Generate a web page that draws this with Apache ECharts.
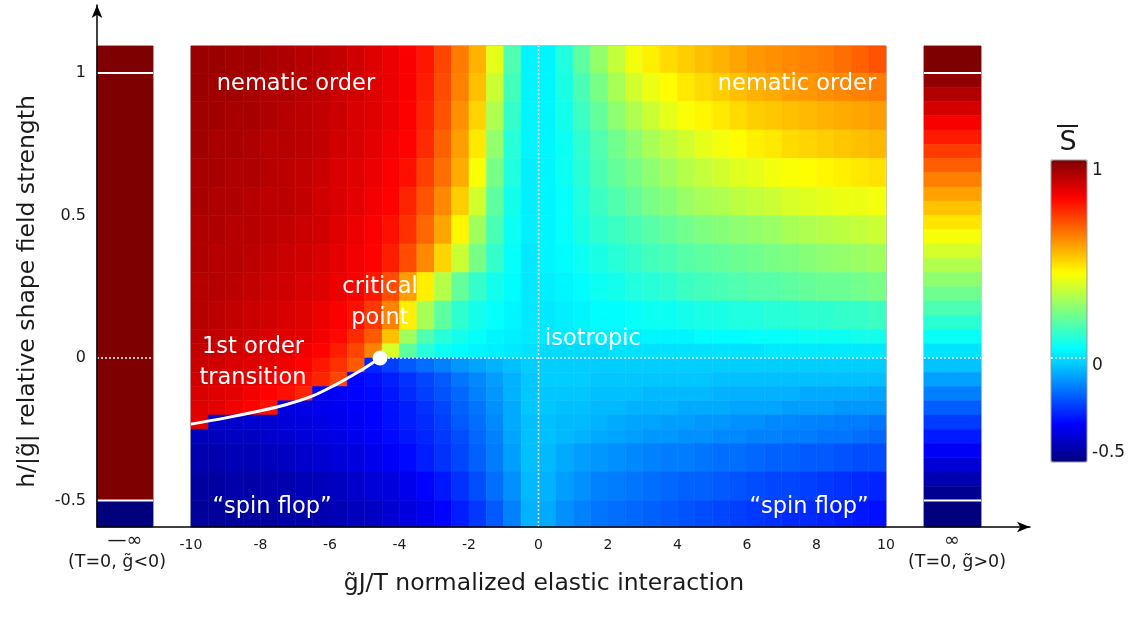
<!DOCTYPE html>
<html><head><meta charset="utf-8">
<script src="https://cdn.jsdelivr.net/npm/echarts@6/dist/echarts.min.js"></script>
<style>html,body{margin:0;padding:0;background:#fff}#c{width:1132px;height:617px}</style>
</head><body><div id="c"></div>
<script>
// ---- data ----
const xCenters = [-9.75,-9.25,-8.75,-8.25,-7.75,-7.25,-6.75,-6.25,-5.75,-5.25,-4.75,-4.25,-3.75,-3.25,-2.75,-2.25,-1.75,-1.25,-0.75,-0.25,
                  0.25,0.75,1.25,1.75,2.25,2.75,3.25,3.75,4.25,4.75,5.25,5.75,6.25,6.75,7.25,7.75,8.25,8.75,9.25,9.75];
// row edges in h (top to bottom); row i spans hEdges[i] .. hEdges[i+1]
const hEdges = [1.1,1.0,0.9,0.8,0.7,0.6,0.5,0.4,0.3,0.2,0.1,0.05,0,-0.05,-0.1,-0.15,-0.2,-0.25,-0.3,-0.4,-0.5,-0.6];

const sH105 = [0.96,0.96,0.95,0.95,0.94,0.93,0.92,0.91,0.90,0.88,0.86,0.84,0.82,0.78,0.71,0.63,0.55,0.40,0.18,0.05,
               0.05,0.11,0.20,0.28,0.35,0.42,0.46,0.49,0.51,0.53,0.55,0.57,0.59,0.60,0.61,0.62,0.63,0.65,0.67,0.69];
const sH095 = [0.96,0.95,0.95,0.94,0.93,0.93,0.92,0.91,0.89,0.88,0.86,0.84,0.82,0.77,0.70,0.62,0.53,0.36,0.16,0.05,
               0.05,0.10,0.17,0.24,0.31,0.37,0.41,0.44,0.47,0.49,0.51,0.53,0.55,0.56,0.58,0.59,0.60,0.61,0.62,0.63];
const sH085 = [0.95,0.95,0.94,0.94,0.93,0.92,0.91,0.90,0.89,0.87,0.86,0.84,0.815,0.76,0.69,0.60,0.50,0.32,0.14,0.05,
               0.05,0.09,0.15,0.21,0.27,0.32,0.36,0.40,0.43,0.45,0.47,0.49,0.51,0.52,0.53,0.54,0.55,0.56,0.57,0.58];
const sH075 = [0.95,0.94,0.94,0.93,0.92,0.92,0.91,0.90,0.88,0.87,0.85,0.83,0.81,0.75,0.67,0.58,0.47,0.28,0.12,0.05,
               0.05,0.08,0.13,0.18,0.23,0.27,0.31,0.34,0.37,0.40,0.42,0.44,0.46,0.47,0.49,0.50,0.51,0.52,0.53,0.54];
const sH065 = [0.94,0.94,0.93,0.93,0.92,0.91,0.90,0.89,0.87,0.86,0.84,0.82,0.79,0.72,0.65,0.56,0.43,0.24,0.11,0.04,
               0.05,0.08,0.12,0.17,0.21,0.24,0.27,0.30,0.33,0.35,0.37,0.39,0.40,0.42,0.43,0.44,0.45,0.46,0.47,0.48];
const sH055 = [0.94,0.93,0.93,0.92,0.91,0.91,0.90,0.88,0.87,0.85,0.83,0.81,0.76,0.69,0.61,0.51,0.37,0.20,0.09,0.04,
               0.05,0.07,0.11,0.15,0.18,0.21,0.24,0.26,0.29,0.31,0.32,0.34,0.35,0.36,0.38,0.39,0.40,0.41,0.41,0.42];
const sH045 = [0.93,0.93,0.92,0.92,0.91,0.90,0.89,0.88,0.86,0.84,0.82,0.79,0.74,0.66,0.57,0.45,0.30,0.17,0.08,0.04,
               0.05,0.07,0.10,0.13,0.15,0.17,0.19,0.21,0.23,0.25,0.26,0.27,0.28,0.29,0.31,0.32,0.33,0.34,0.35,0.36];
const sH035 = [0.93,0.92,0.92,0.91,0.90,0.89,0.88,0.87,0.85,0.83,0.81,0.77,0.70,0.61,0.50,0.36,0.24,0.14,0.07,0.03,
               0.05,0.06,0.08,0.10,0.12,0.14,0.16,0.17,0.19,0.20,0.21,0.22,0.23,0.24,0.25,0.26,0.27,0.28,0.29,0.30];
const sH025 = [0.92,0.92,0.91,0.90,0.89,0.88,0.87,0.86,0.84,0.82,0.78,0.70,0.58,0.46,0.33,0.21,0.14,0.09,0.06,0.03,
               0.04,0.05,0.06,0.08,0.09,0.11,0.12,0.13,0.15,0.16,0.17,0.18,0.19,0.19,0.20,0.21,0.22,0.22,0.23,0.24];
const sH015 = [0.92,0.91,0.90,0.89,0.88,0.87,0.86,0.84,0.82,0.79,0.73,0.62,0.46,0.31,0.20,0.13,0.09,0.07,0.05,0.03,
               0.03,0.04,0.05,0.06,0.06,0.07,0.08,0.08,0.09,0.10,0.10,0.11,0.11,0.12,0.12,0.13,0.13,0.14,0.14,0.15];
const sH0075 = [0.91,0.90,0.89,0.88,0.87,0.86,0.85,0.83,0.80,0.75,0.68,0.53,0.30,0.18,0.12,0.09,0.07,0.05,0.04,0.03,
                0.03,0.03,0.03,0.04,0.04,0.04,0.05,0.05,0.05,0.06,0.06,0.06,0.07,0.07,0.07,0.08,0.08,0.08,0.09,0.09];
const sH0025 = [0.90,0.89,0.88,0.87,0.86,0.85,0.83,0.81,0.77,0.71,0.62,0.38,0.20,0.12,0.08,0.06,0.05,0.04,0.03,0.02,
                0.01,0.01,0.01,0.01,0.02,0.02,0.02,0.02,0.02,0.02,0.02,0.02,0.02,0.03,0.03,0.03,0.03,0.03,0.03,0.03];
const sHm0025 = [0.89,0.88,0.87,0.86,0.85,0.83,0.81,0.78,0.74,0.68,-0.26,-0.22,-0.18,-0.15,-0.12,-0.09,-0.07,-0.05,-0.03,-0.01,
                 -0.01,-0.01,-0.01,-0.01,-0.01,-0.01,-0.01,-0.01,-0.01,-0.01,-0.01,-0.01,-0.01,-0.01,-0.01,-0.01,-0.01,-0.01,-0.01,-0.01];
const sHm0075 = [0.88,0.87,0.86,0.85,0.83,0.81,0.79,0.76,0.71,-0.31,-0.29,-0.27,-0.24,-0.21,-0.18,-0.14,-0.11,-0.08,-0.05,-0.02,
                 -0.01,-0.01,-0.01,-0.02,-0.02,-0.02,-0.02,-0.02,-0.02,-0.02,-0.03,-0.03,-0.03,-0.03,-0.03,-0.03,-0.03,-0.03,-0.03,-0.03];
const sHm0125 = [0.87,0.86,0.85,0.83,0.81,0.79,0.76,-0.33,-0.32,-0.31,-0.30,-0.28,-0.25,-0.22,-0.19,-0.16,-0.12,-0.09,-0.05,-0.02,
                 -0.02,-0.02,-0.02,-0.03,-0.03,-0.03,-0.04,-0.04,-0.04,-0.04,-0.05,-0.05,-0.05,-0.05,-0.05,-0.06,-0.06,-0.06,-0.06,-0.07];
const sHm0175 = [0.86,0.85,0.83,0.81,0.79,-0.36,-0.35,-0.34,-0.33,-0.32,-0.31,-0.29,-0.27,-0.24,-0.21,-0.17,-0.14,-0.10,-0.06,-0.02,
                 -0.02,-0.03,-0.03,-0.04,-0.04,-0.05,-0.05,-0.05,-0.06,-0.06,-0.06,-0.07,-0.07,-0.07,-0.08,-0.08,-0.08,-0.09,-0.09,-0.09];
const sHm0225 = [0.85,-0.39,-0.39,-0.38,-0.38,-0.37,-0.36,-0.35,-0.34,-0.33,-0.31,-0.29,-0.27,-0.25,-0.22,-0.18,-0.15,-0.11,-0.06,-0.03,
                 -0.03,-0.04,-0.04,-0.05,-0.06,-0.07,-0.07,-0.08,-0.08,-0.09,-0.09,-0.10,-0.10,-0.11,-0.11,-0.12,-0.12,-0.13,-0.13,-0.14];
const sHm0275 = [-0.41,-0.41,-0.40,-0.40,-0.39,-0.38,-0.37,-0.36,-0.35,-0.34,-0.32,-0.30,-0.28,-0.26,-0.23,-0.20,-0.16,-0.12,-0.07,-0.03,
                 -0.03,-0.04,-0.05,-0.06,-0.07,-0.08,-0.09,-0.09,-0.10,-0.10,-0.11,-0.11,-0.12,-0.12,-0.13,-0.13,-0.14,-0.14,-0.15,-0.16];
const sHm035 = [-0.43,-0.43,-0.42,-0.42,-0.41,-0.40,-0.39,-0.38,-0.37,-0.36,-0.34,-0.32,-0.30,-0.27,-0.24,-0.21,-0.17,-0.13,-0.08,-0.03,
                -0.04,-0.06,-0.08,-0.09,-0.10,-0.11,-0.12,-0.13,-0.13,-0.14,-0.15,-0.15,-0.16,-0.17,-0.17,-0.18,-0.18,-0.19,-0.20,-0.20];
const sHm045 = [-0.45,-0.45,-0.44,-0.44,-0.43,-0.43,-0.42,-0.41,-0.40,-0.39,-0.37,-0.36,-0.34,-0.31,-0.28,-0.24,-0.20,-0.15,-0.10,-0.04,
                -0.05,-0.08,-0.10,-0.12,-0.13,-0.14,-0.15,-0.16,-0.17,-0.17,-0.18,-0.19,-0.20,-0.21,-0.21,-0.22,-0.23,-0.24,-0.25,-0.26];
const sHm055 = [-0.46,-0.46,-0.46,-0.45,-0.45,-0.44,-0.44,-0.43,-0.42,-0.41,-0.40,-0.38,-0.36,-0.34,-0.31,-0.27,-0.23,-0.18,-0.12,-0.05,
                -0.06,-0.10,-0.12,-0.14,-0.15,-0.16,-0.17,-0.18,-0.19,-0.20,-0.21,-0.22,-0.23,-0.24,-0.25,-0.25,-0.26,-0.27,-0.28,-0.29];
const rowsS = [sH105,sH095,sH085,sH075,sH065,sH055,sH045,sH035,sH025,sH015,sH0075,sH0025,
               sHm0025,sHm0075,sHm0125,sHm0175,sHm0225,sHm0275,sHm035,sHm045,sHm055];

const yTickValues = [-0.5, 0, 0.5, 1];
const colorbarTicks = ['1', '0', '-0.5'];

// first-order transition line and critical point
const curveX = [-10, -9, -8, -7.3, -6.5, -5.86, -5.4, -5.0, -4.56];
const curveH = [-0.232, -0.210, -0.185, -0.165, -0.133, -0.095, -0.064, -0.035, 0];
const criticalPoint = [-4.56, 0];

// limit bars: edges in h and S value of each segment
const leftBarEdges = [1.095, -0.5, -0.593];
const leftBarS = [1, -0.5];
const rightBarEdges = [1.095,1.0,0.95,0.9,0.85,0.8,0.75,0.7,0.65,0.6,0.55,0.5,0.45,0.4,0.35,0.3,0.25,0.2,0.15,0.1,0.05,0,
                       -0.05,-0.1,-0.15,-0.2,-0.25,-0.3,-0.35,-0.4,-0.45,-0.5,-0.593];
const rightBarS = [1,0.975,0.925,0.875,0.825,0.775,0.725,0.675,0.625,0.575,0.525,0.475,0.425,0.375,0.325,0.275,0.225,0.175,0.125,0.075,0.025,
                   -0.025,-0.075,-0.125,-0.175,-0.225,-0.275,-0.325,-0.375,-0.425,-0.475,-0.5];

// ---- build series data ----
const dx = (xCenters[1] - xCenters[0]) / 2;
const cellData = [];
rowsS.forEach((row, r) => row.forEach((s, c) =>
  cellData.push([xCenters[c], hEdges[r + 1], hEdges[r], s])));
const curveData = curveX.map((x, i) => [x, curveH[i]]);
const barData = (edges, vals) => vals.map((s, i) => [edges[i + 1], edges[i], s]);

const H_MIN = -0.593, H_MAX = 1.095;
const FONT = 'DejaVu Sans';
const TXT = '#1a1a1a';

function clipTo(params, rect) {
  const cs = params.coordSys;
  return echarts.graphic.clipRectByRect(rect, {x: cs.x, y: cs.y, width: cs.width, height: cs.height});
}
function renderCell(params, api) {
  const x = api.value(0), lo = api.value(1), hi = api.value(2);
  const a = api.coord([x - dx, hi]);
  const b = api.coord([x + dx, lo]);
  const rect = clipTo(params, {x: a[0], y: a[1], width: b[0] - a[0], height: b[1] - a[1]});
  if (!rect) return;
  const col = api.visual('color');
  return {type: 'rect', shape: rect, style: {fill: col, stroke: col, lineWidth: 0.6}};
}
function renderBar(params, api) {
  const lo = api.value(0), hi = api.value(1);
  const a = api.coord([0, hi]);
  const b = api.coord([1, lo]);
  const rect = clipTo(params, {x: a[0], y: a[1], width: b[0] - a[0], height: b[1] - a[1]});
  if (!rect) return;
  const col = api.visual('color');
  return {type: 'rect', shape: rect, style: {fill: col, stroke: col, lineWidth: 0.6}};
}

const hiddenVal = (gi, min, max) => ({type: 'value', gridIndex: gi, min, max, show: false});
const hLine = (ax, y, dotted) => ({
  type: 'line', xAxisIndex: ax, yAxisIndex: ax, data: [[0, y], [1, y]], symbol: 'none', silent: true, z: 5,
  lineStyle: {color: '#fff', width: dotted ? 1.5 : 2, type: dotted ? [2, 2] : 'solid'}
});

const jet = ['#00007f', '#0000ff', '#007fff', '#00ffff', '#7fff7f', '#ffff00', '#ff7f00', '#ff0000', '#7f0000'];

const chart = echarts.init(document.getElementById('c'), null, {renderer: 'canvas'});
const option = {
  animation: false,
  backgroundColor: '#fff',
  textStyle: {fontFamily: FONT},
  grid: [
    {left: 97, top: 46, width: 56, height: 481, show: true, borderColor: '#aaa', borderWidth: 1},
    {left: 191, top: 46, width: 695, height: 481, show: true, borderColor: '#888', borderWidth: 1},
    {left: 924, top: 46, width: 57, height: 481, show: true, borderColor: '#aaa', borderWidth: 1},
    {left: 97, top: 5, width: 933, height: 522, show: false}
  ],
  xAxis: [
    hiddenVal(0, 0, 1),
    {type: 'value', gridIndex: 1, min: -10, max: 10, interval: 2,
     axisLine: {show: false}, axisTick: {show: false}, splitLine: {show: false},
     axisLabel: {fontSize: 14, color: TXT, margin: 11, fontFamily: FONT},
     name: 'g\u0303J/T normalized elastic interaction', nameLocation: 'middle', nameGap: 45,
     nameTextStyle: {fontSize: 23.5, color: TXT, fontFamily: FONT, padding: [0, 0, 0, 11]}},
    hiddenVal(2, 0, 1),
    {type: 'value', gridIndex: 3, min: 0, max: 1, z: 10,
     axisLine: {show: true, onZero: false, symbol: ['none', 'arrow'], symbolSize: [8, 13], lineStyle: {color: '#000', width: 1.5}},
     axisTick: {show: false}, axisLabel: {show: false}, splitLine: {show: false}}
  ],
  yAxis: [
    {type: 'value', gridIndex: 0, min: H_MIN, max: H_MAX,
     axisLine: {show: false}, axisTick: {show: false}, splitLine: {show: false},
     axisLabel: {customValues: yTickValues, fontSize: 16, color: TXT, margin: 11, fontFamily: FONT,
                 formatter: v => String(v)},
     name: 'h/|g\u0303| relative shape field strength', nameLocation: 'middle', nameGap: 57, nameRotate: 90,
     nameTextStyle: {fontSize: 23.5, color: TXT, fontFamily: FONT, padding: [0, 10, 0, 0]}},
    hiddenVal(1, H_MIN, H_MAX),
    hiddenVal(2, H_MIN, H_MAX),
    {type: 'value', gridIndex: 3, min: 0, max: 1, z: 10,
     axisLine: {show: true, onZero: false, symbol: ['none', 'arrow'], symbolSize: [8, 13], lineStyle: {color: '#000', width: 1.5}},
     axisTick: {show: false}, axisLabel: {show: false}, splitLine: {show: false}}
  ],
  visualMap: [
    {type: 'continuous', min: -0.5, max: 1, dimension: 3, seriesIndex: [0],
     calculable: false, hoverLink: false, padding: 0,
     left: 1051, top: 160, itemWidth: 36, itemHeight: 302, text: null,
     inRange: {color: jet}},
    {type: 'continuous', min: -0.5, max: 1, dimension: 2, seriesIndex: [1, 2], show: false,
     inRange: {color: jet}}
  ],
  series: [
    {type: 'custom', xAxisIndex: 1, yAxisIndex: 1, data: cellData, renderItem: renderCell,
     encode: {x: 0, y: [1, 2]}, silent: true},
    {type: 'custom', xAxisIndex: 0, yAxisIndex: 0, data: barData(leftBarEdges, leftBarS), renderItem: renderBar,
     encode: {y: [0, 1]}, silent: true},
    {type: 'custom', xAxisIndex: 2, yAxisIndex: 2, data: barData(rightBarEdges, rightBarS), renderItem: renderBar,
     encode: {y: [0, 1]}, silent: true},
    // dotted guide lines in the main plot
    {type: 'line', xAxisIndex: 1, yAxisIndex: 1, data: [criticalPoint, [10, 0]], symbol: 'none', silent: true, z: 4,
     lineStyle: {color: '#fff', width: 1.5, type: [2, 2]}},
    {type: 'line', xAxisIndex: 1, yAxisIndex: 1, data: [[0, H_MIN], [0, H_MAX]], symbol: 'none', silent: true, z: 4,
     lineStyle: {color: '#fff', width: 1.5, type: [2, 2]}},
    // first order transition line
    {type: 'line', xAxisIndex: 1, yAxisIndex: 1, data: curveData, smooth: 0.3, symbol: 'none', silent: true, z: 5,
     lineStyle: {color: '#fff', width: 3}},
    // critical point
    {type: 'scatter', xAxisIndex: 1, yAxisIndex: 1, data: [criticalPoint], symbolSize: 15, silent: true, z: 6,
     itemStyle: {color: '#fff', opacity: 1}},
    hLine(0, 1, false), hLine(0, -0.5, false), hLine(0, 0, true),
    hLine(2, 1, false), hLine(2, -0.5, false), hLine(2, 0, true)
  ],
  graphic: {elements: [
    ...[
      ['nematic order', 296, 84], ['nematic order', 797, 84],
      ['critical', 380, 287], ['point', 380, 318],
      ['1st order', 253, 347], ['transition', 253, 378],
      ['isotropic', 593, 339],
      ['\u201Cspin flop\u201D', 272, 507], ['\u201Cspin flop\u201D', 809, 507]
    ].map(([t, x, y]) => ({type: 'text', x, y, z: 20, silent: true,
      style: {text: t, fill: '#fff', font: '22.5px "' + FONT + '"', align: 'center', verticalAlign: 'middle',
              textAlign: 'center', textVerticalAlign: 'middle'}})),
    ...[
      ['\u2014\u221E', 125, 541, 19], ['(T=0, g\u0303<0)', 117, 562, 17.5],
      ['\u221E', 952, 541, 19], ['(T=0, g\u0303>0)', 957, 562, 17.5]
    ].map(([t, x, y, fs]) => ({type: 'text', x, y, z: 20, silent: true,
      style: {text: t, fill: TXT, font: fs + 'px "' + FONT + '"', align: 'center', verticalAlign: 'middle',
              textAlign: 'center', textVerticalAlign: 'middle'}})),
    // colorbar ticks and title
    ...colorbarTicks.map((t, i) => ({type: 'text', x: 1092, y: [171, 366, 453][i], z: 20, silent: true,
      style: {text: t, fill: TXT, font: '17px "' + FONT + '"', align: 'left', verticalAlign: 'middle',
              textAlign: 'left', textVerticalAlign: 'middle'}})),
    {type: 'text', x: 1068, y: 143, z: 20, silent: true,
     style: {text: 'S', fill: TXT, font: '27px "' + FONT + '"', align: 'center', verticalAlign: 'middle',
             textAlign: 'center', textVerticalAlign: 'middle'}},
    {type: 'line', z: 20, silent: true, shape: {x1: 1057, y1: 126, x2: 1078, y2: 126}, style: {stroke: TXT, lineWidth: 2}},
    {type: 'line', z: 20, silent: true, shape: {x1: 1051, y1: 358, x2: 1087, y2: 358}, style: {stroke: '#fff', lineWidth: 1.5, lineDash: [2, 2]}},
    {type: 'rect', z: 19, silent: true, shape: {x: 1051, y: 160, width: 36, height: 302}, style: {fill: 'none', stroke: '#999', lineWidth: 1}}
  ]}
};
chart.setOption(option);
</script></body></html>
